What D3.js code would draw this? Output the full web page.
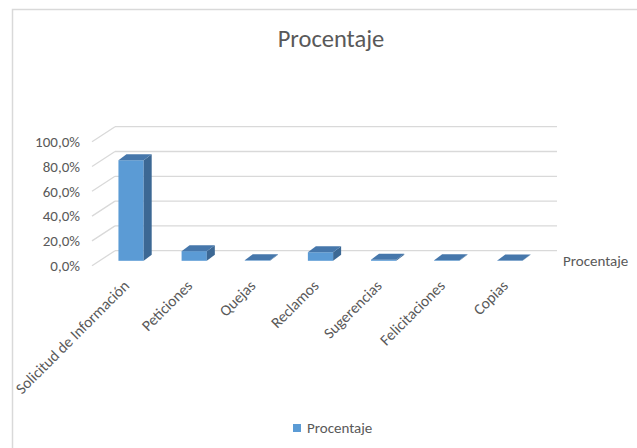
<!DOCTYPE html>
<html>
<head>
<meta charset="utf-8">
<script src="https://cdn.jsdelivr.net/npm/d3@7"></script>
<style>
  html, body { margin: 0; padding: 0; background: #fff; }
  svg { display: block; font-family: Carlito, Calibri, Lato, "Open Sans", sans-serif; }
</style>
</head>
<body>
<svg id="chart" width="637" height="448"></svg>
<script>
const categories = ["Solicitud de Información", "Peticiones", "Quejas", "Reclamos", "Sugerencias", "Felicitaciones", "Copias"];
const values = [81.1, 7.8, 0.4, 6.9, 0.9, 0.5, 0.3];
const yTicks = [0, 20, 40, 60, 80, 100];
const seriesName = "Procentaje";
const titleText = "Procentaje";

const svg = d3.select("#chart");
const textColor = "#595959";
const gridColor = "#d9d9d9";

// chart border (top & left visible)
svg.append("path").attr("d", "M12.5,448 L12.5,9.5 L637,9.5")
  .attr("fill", "none").attr("stroke", gridColor).attr("stroke-width", 1.5);

// oblique 3D geometry
const floorX0 = 92, floorX1 = 534;
const wallDX = 23, wallDY = -15;
const barOffDX = 7.5, barOffDY = -4.9;
const barDX = 8, barDY = -6;

const x = d3.scaleBand().domain(categories).range([floorX0, floorX1])
  .paddingInner(0.6).paddingOuter(0.3);
const y = d3.scaleLinear().domain([0, 100]).range([265.7, 141.7]);

// gridlines: side diagonals + back wall lines
const grid = svg.append("g");
yTicks.forEach(t => {
  const yy = y(t);
  grid.append("line")
    .attr("x1", floorX0).attr("y1", yy)
    .attr("x2", floorX0 + wallDX).attr("y2", yy + wallDY)
    .attr("stroke", gridColor).attr("stroke-width", 1.3);
  grid.append("line")
    .attr("x1", floorX0 + wallDX).attr("y1", yy + wallDY)
    .attr("x2", floorX1 + wallDX).attr("y2", yy + wallDY)
    .attr("stroke", gridColor).attr("stroke-width", 1.3);
});

// y axis labels
const fmt = v => d3.format(".1f")(v).replace(".", ",") + "%";
svg.append("g").selectAll("text").data(yTicks).join("text")
  .attr("x", 80).attr("y", d => y(d)).attr("dy", "0.35em")
  .attr("text-anchor", "end").attr("font-size", 15).attr("fill", textColor)
  .text(fmt);

// bars
const bars = svg.append("g").selectAll("g").data(categories.map((c, i) => ({c, v: values[i]}))).join("g");
bars.each(function(d) {
  const g = d3.select(this);
  const xl = x(d.c) + barOffDX, xr = xl + x.bandwidth();
  const yt = y(d.v) + barOffDY, yb = y(0) + barOffDY;
  g.append("rect").attr("x", xl).attr("y", yt).attr("width", xr - xl).attr("height", Math.max(0, yb - yt))
    .attr("fill", "#5b9bd5");
  g.append("polygon")
    .attr("points", [[xr, yt], [xr + barDX, yt + barDY], [xr + barDX, yb + barDY], [xr, yb]].join(" "))
    .attr("fill", "#3c6894");
  g.append("polygon")
    .attr("points", [[xl, yt], [xl + barDX, yt + barDY], [xr + barDX, yt + barDY], [xr, yt]].join(" "))
    .attr("fill", "#4677ab");
});

// category labels
svg.append("g").selectAll("text").data(categories).join("text")
  .attr("transform", d => `translate(${x(d) + x.bandwidth() / 2 + barOffDX - 8.5},${279}) rotate(-45)`)
  .attr("text-anchor", "end").attr("dy", "0.7em")
  .attr("font-size", 15.5).attr("fill", textColor)
  .text(d => d);

// series (depth) axis label
svg.append("text").attr("x", 563).attr("y", 261).attr("dy", "0.35em")
  .attr("font-size", 15).attr("fill", textColor).text(seriesName);

// title
svg.append("text").attr("x", 331).attr("y", 47)
  .attr("text-anchor", "middle").attr("font-size", 24.5).attr("fill", textColor).text(titleText);

// legend
const lg = svg.append("g").attr("transform", "translate(293,424)");
lg.append("rect").attr("width", 8).attr("height", 8).attr("fill", "#5b9bd5");
lg.append("text").attr("x", 14).attr("y", 4).attr("dy", "0.35em")
  .attr("font-size", 15).attr("fill", textColor).text(seriesName);
</script>
</body>
</html>
